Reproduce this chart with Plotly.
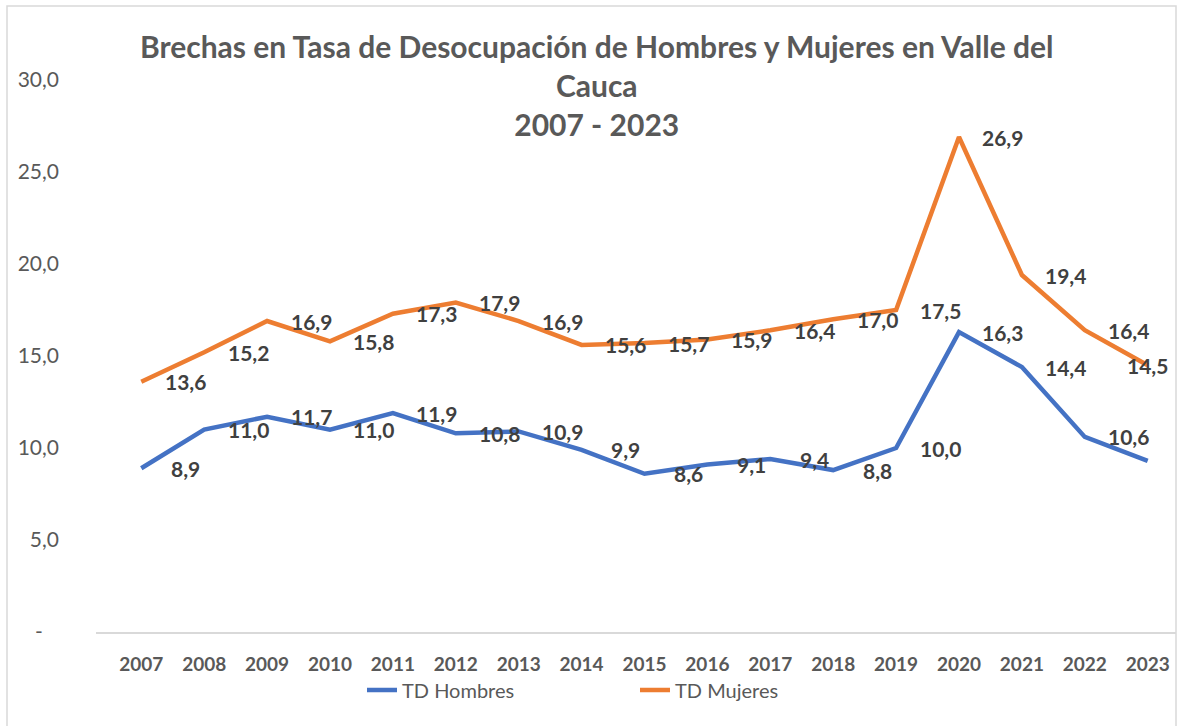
import plotly.graph_objects as go

years = [str(y) for y in range(2007, 2024)]
td_hombres = [8.9, 11.0, 11.7, 11.0, 11.9, 10.8, 10.9, 9.9, 8.6, 9.1, 9.4, 8.8, 10.0, 16.3, 14.4, 10.6, 9.3]
td_mujeres = [13.6, 15.2, 16.9, 15.8, 17.3, 17.9, 16.9, 15.6, 15.7, 15.9, 16.4, 17.0, 17.5, 26.9, 19.4, 16.4, 14.5]
# Labels shown in the reference (last Hombres point carries no label)
lbl_hombres = [f"{v:.1f}".replace(".", ",") for v in td_hombres[:-1]] + [""]
lbl_mujeres = [f"{v:.1f}".replace(".", ",") for v in td_mujeres]

y_ticks = [0, 5, 10, 15, 20, 25, 30]
y_ticktext = ["-\u00a0\u00a0\u00a0", "5,0", "10,0", "15,0", "20,0", "25,0", "30,0"]

BLUE = "#4472C4"
ORANGE = "#ED7D31"
GREY = "#595959"
LBL = "#404040"
FONT = "Lato, 'Open Sans', sans-serif"

fig = go.Figure()
fig.add_trace(go.Scatter(x=years, y=td_hombres, mode="lines", name="TD Hombres",
                         line=dict(color=BLUE, width=4.5)))
fig.add_trace(go.Scatter(x=years, y=td_mujeres, mode="lines", name="TD Mujeres",
                         line=dict(color=ORANGE, width=4.5)))

annotations = []
n = len(years)
for ys, ls in [(td_hombres, lbl_hombres), (td_mujeres, lbl_mujeres)]:
    for i, (y, t) in enumerate(zip(ys, ls)):
        if not t:
            continue
        annotations.append(dict(x=i, y=y, xref="x", yref="y", text=t, showarrow=False,
                                xshift=44 if i < n - 1 else 0,
                                font=dict(family=FONT, size=21, color=LBL, weight="bold")))

fig.update_layout(
    width=1177, height=726,
    paper_bgcolor="white", plot_bgcolor="white",
    margin=dict(l=96, r=1, t=80, b=94, autoexpand=False),
    font=dict(family=FONT, color=GREY),
    title=dict(
        text="Brechas en Tasa de Desocupación de Hombres y Mujeres en Valle del<br>Cauca<br>2007 - 2023",
        x=0.507, xanchor="center", xref="container",
        y=1 - 58 / 726, yanchor="top", yref="container",
        font=dict(family=FONT, size=30, color=GREY, weight="bold"),
    ),
    xaxis=dict(type="category", range=[-0.72, 16.45], showgrid=False,
               showline=True, linecolor="#D9D9D9", linewidth=1.5, ticks="",
               tickfont=dict(family=FONT, size=19, color=GREY, weight="bold"),
               ticklabelstandoff=14),
    yaxis=dict(range=[0, 30], tickvals=y_ticks, ticktext=y_ticktext,
               showgrid=False, zeroline=False, showline=False, ticks="",
               tickfont=dict(family=FONT, size=21, color=GREY),
               ticklabelstandoff=36),
    legend=dict(orientation="h", x=(362 - 96) / 1080, xanchor="left",
                y=-(690 - 632) / 552, yanchor="middle",
                font=dict(family=FONT, size=20, color=GREY), entrywidth=228),
    annotations=annotations,
    shapes=[dict(type="rect", xref="paper", yref="paper",
                 x0=-(96 - 7) / 1080, x1=(1176 - 96) / 1080 + 0.0,
                 y0=-(726 - 632 + 2) / 552, y1=1 + (80 - 6) / 552,
                 line=dict(color="#D9D9D9", width=1.5), layer="below")],
)

fig.write_html("out.html", config={"displayModeBar": False},
               post_script="document.body.style.margin='0';")
